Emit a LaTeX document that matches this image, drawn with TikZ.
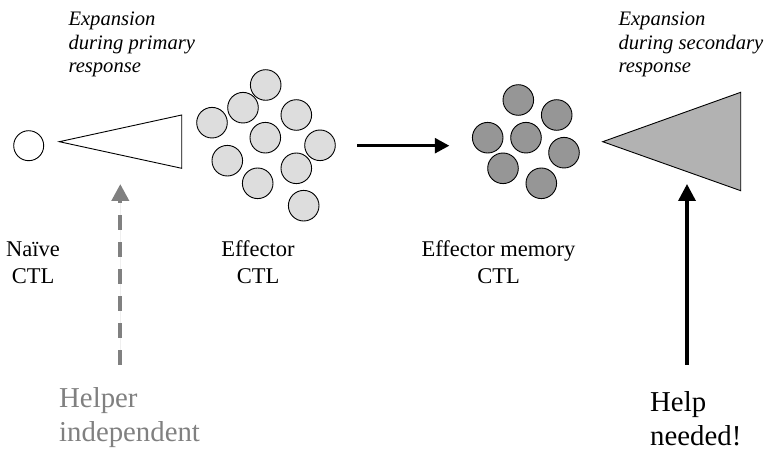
\documentclass[tikz,border=0pt]{standalone}
\usepackage{fontspec}
\setmainfont{Liberation Serif}
\usetikzlibrary{arrows.meta}
\definecolor{lightcell}{RGB}{221,221,221}
\definecolor{darkcell}{RGB}{150,150,150}
\definecolor{trigray}{RGB}{178,178,178}
\definecolor{helpgray}{RGB}{128,128,128}
\tikzset{
  cell/.style={circle,draw=black,line width=0.9pt,minimum size=30.6pt,inner sep=0pt},
  lightc/.style={cell,fill=lightcell},
  darkc/.style={cell,fill=darkcell},
  naivec/.style={cell,fill=white,minimum size=30pt},
  itlabel/.style={anchor=base west,align=left,inner sep=0pt,font=\fontsize{20.6}{23.5}\selectfont\itshape},
  celllabel/.style={anchor=base,align=center,inner sep=0pt,font=\fontsize{22.5}{26.6}\selectfont},
  biglabel/.style={anchor=base west,align=left,inner sep=0pt,font=\fontsize{28.8}{34}\selectfont},
  blackarrow/.style={draw=black,-{Triangle[length=14.5pt,width=15pt]}},
  uparrow/.style={-{Triangle[length=17pt,width=17pt]}},
}
\begin{document}
\begin{tikzpicture}[x=1pt,y=-1pt]
\useasboundingbox (0,0) rectangle (764,449);
% naive cell
\node[naivec] (naive) at (28.7,145.7) {};
% primary expansion triangle
\draw[line width=0.9pt,line join=miter] (59.3,141.7) -- (181.7,115) -- (181.7,168.3) -- cycle;
% effector cells
\node[lightc] (e1) at (265.7,85) {};
\node[lightc] (e2) at (243,107.7) {};
\node[lightc] (e3) at (212,122.7) {};
\node[lightc] (e4) at (296.3,115) {};
\node[lightc] (e5) at (265.3,137.7) {};
\node[lightc] (e6) at (320,145.3) {};
\node[lightc] (e7) at (227.3,160.7) {};
\node[lightc] (e8) at (296.3,168.3) {};
\node[lightc] (e9) at (257.7,183.3) {};
\node[lightc] (e10) at (303.7,205.7) {};
% memory cells
\node[darkc] (m1) at (518.3,100) {};
\node[darkc] (m2) at (556.7,115) {};
\node[darkc] (m3) at (487.7,137.7) {};
\node[darkc] (m4) at (526,137.7) {};
\node[darkc] (m5) at (564,152.7) {};
\node[darkc] (m6) at (503,168.3) {};
\node[darkc] (m7) at (541.3,183.3) {};
% secondary expansion triangle
\draw[line width=0.9pt,fill=trigray,line join=miter] (602.7,141.7) -- (740.7,92.3) -- (740.7,190.7) -- cycle;
% arrow effector -> memory
\coordinate (ha) at (357.3,145.7);
\coordinate (hb) at (449.3,145.7);
\draw[blackarrow,line width=2.7pt] (ha) -- (hb);
% dashed gray arrow
\coordinate (da) at (120.3,365);
\coordinate (db) at (120.3,184);
\draw[uparrow,draw=helpgray,fill=helpgray,line width=4pt,dash pattern=on 15pt off 12pt] (da) -- (db);
% black help arrow
\coordinate (ba) at (687,365);
\coordinate (bb) at (687,184);
\draw[uparrow,line width=3.5pt] (ba) -- (bb);
% italic texts (base anchor = last line)
\node[itlabel] (prim) at (68.3,73) {Expansion\\during primary\\response};
\node[itlabel] (sec) at (618.3,73) {Expansion\\during secondary\\response};
% cell labels
\node[celllabel] (lnaive) at (33,283.3) {Naïve\\CTL};
\node[celllabel] (leff) at (258,283.3) {Effector\\CTL};
\node[celllabel] (lmem) at (498.5,283.3) {Effector memory\\CTL};
% bottom texts
\node[biglabel,text=helpgray] (helper) at (59,441) {Helper\\independent};
\node[biglabel] (help) at (650,445) {Help\\needed!};
\end{tikzpicture}
\end{document}
